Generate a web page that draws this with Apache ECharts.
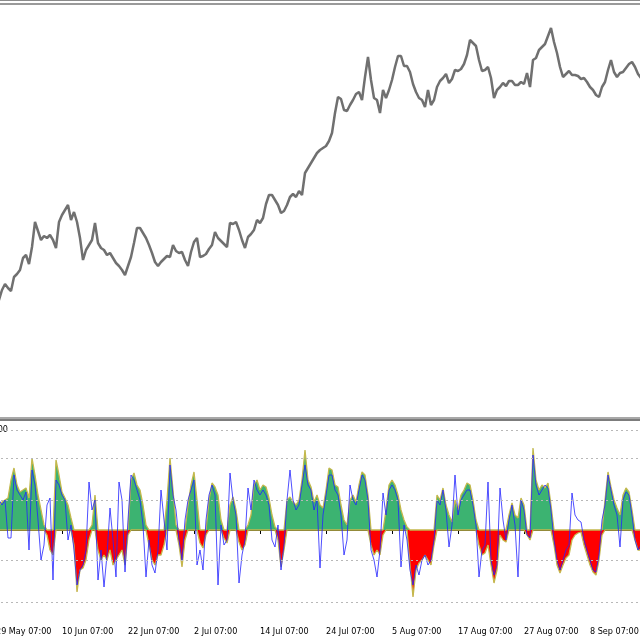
<!DOCTYPE html>
<html><head><meta charset="utf-8">
<script src="https://cdn.jsdelivr.net/npm/echarts@6/dist/echarts.min.js"></script>
<style>html,body{margin:0;padding:0;background:#fff}#c{width:640px;height:640px}</style>
</head><body><div id="c"></div>
<script>
// Time-axis tick labels (one every 22 bars)
const tickLabels = ['29 May 07:00', '10 Jun 07:00', '22 Jun 07:00', '2 Jul 07:00', '14 Jul 07:00',
  '24 Jul 07:00', '5 Aug 07:00', '17 Aug 07:00', '27 Aug 07:00', '8 Sep 07:00'];
const barsPerLabel = 22;

// Price (close), arbitrary units
const price = [
  115,120,130,136,132,129,143,146,150,162,
  165,156,173,198,189,180,184,182,185,180,
  172,198,205,210,215,200,208,198,182,160,
  170,175,180,197,177,172,170,165,167,162,
  157,154,150,145,154,163,177,192,192,187,
  182,175,167,158,154,158,161,164,163,175,
  169,167,168,160,154,168,178,182,163,164,
  166,171,175,188,182,179,176,173,197,196,
  198,190,180,172,183,186,190,200,197,202,
  216,225,225,220,215,207,209,215,223,226,
  223,229,225,247,252,257,262,267,270,272,
  274,279,287,307,323,321,310,309,315,320,
  326,328,320,343,363,340,322,320,307,330,
  322,330,340,353,364,364,354,354,348,336,
  328,322,320,313,330,315,320,333,339,342,
  346,337,341,350,349,351,356,365,380,377,
  374,360,349,350,353,342,322,330,333,337,
  334,339,339,335,335,338,336,347,333,360,
  362,370,373,376,384,392,378,367,353,343,
  346,349,345,345,344,341,342,338,333,330,
  325,323,333,338,350,360,348,343,347,348,
  352,356,358,353,346,342
];

// Oscillator histogram (signed)
const hist = [
  25,25,28,30,32,50,62,45,38,40,
  42,32,72,55,35,20,5,-5,-20,-25,
  70,55,38,32,25,12,-15,-62,-40,-38,
  -30,-10,5,35,-20,-30,-25,-30,-20,-35,
  -30,-25,-20,-35,-5,50,57,45,40,25,
  5,-15,-30,-35,-25,-25,-15,30,72,40,
  5,-15,-37,-10,25,45,58,30,-13,-18,
  -5,30,47,43,35,10,-8,-13,25,33,
  20,-12,-20,-15,5,15,45,50,40,45,
  43,32,15,3,-10,-37,-20,30,33,28,
  25,30,50,80,50,43,28,35,25,22,
  40,62,60,45,43,25,10,5,30,35,
  28,45,58,55,35,-15,-25,-20,-25,-5,
  20,45,50,45,35,20,10,3,-35,-67,
  -40,-33,-30,-25,-30,-35,-15,35,30,42,
  25,15,8,30,20,35,40,47,45,30,
  10,-15,-25,-23,-15,-35,-53,-40,-5,-10,
  -12,15,27,15,12,32,25,-5,-10,82,
  50,40,45,42,47,25,-15,-35,-43,-35,
  -28,-25,-10,-5,-3,-2,-15,-25,-35,-42,
  -45,-30,-5,30,58,43,30,22,15,35,
  42,38,20,-10,-20,-20
];

// Fast signal line
const signal = [
  20,30,25,30,-8,-8,55,40,35,30,
  38,-20,60,45,10,-30,-15,25,32,-50,
  50,45,35,30,-10,5,-20,-55,-40,-35,
  -20,48,20,30,-50,-20,-57,-25,22,-10,
  -47,48,30,-42,10,55,50,40,30,5,
  -47,-10,-35,-43,-20,40,10,-20,65,35,
  20,-10,-30,10,30,40,50,-35,-20,-40,
  10,35,45,35,-55,5,-15,-10,57,30,
  15,-53,-25,-10,42,20,50,40,35,40,
  35,25,-10,-17,5,-40,-15,30,60,30,
  20,25,45,65,45,40,20,30,-38,15,
  35,55,55,40,35,15,-25,-10,45,30,
  25,40,55,50,30,-20,-30,-47,-20,37,
  15,40,45,40,30,-37,5,-10,-40,-55,
  -35,-45,-30,-25,-35,-30,-10,30,25,40,
  20,-17,5,55,15,30,35,40,40,25,
  5,-47,-20,-15,48,-30,-45,-35,42,10,
  -10,10,25,5,-47,30,20,-5,-8,75,
  45,35,40,45,42,20,-10,-30,-40,-30,
  -20,-15,37,15,10,8,-10,-20,-30,-40,
  -42,-25,10,25,55,40,25,15,-17,30,
  38,35,15,-10,-20,-15
];

// Indicator levels (dotted)
const levels = [100, 72, 30, -30, -72];

const cats = price.map((_, i) => 'b' + i);
const pos = hist.map(v => (v > 0 ? v : 0));
const neg = hist.map(v => (v < 0 ? v : 0));
const isTick = (idx) => idx % barsPerLabel === 0;
const fontNarrow = "'Liberation Sans Narrow', 'DejaVu Sans Condensed', 'Liberation Sans', sans-serif";

const chart = echarts.init(document.getElementById('c'), null, { renderer: 'canvas' });
chart.setOption({
  animation: false,
  backgroundColor: '#ffffff',
  grid: [
    { left: -4, right: -1, top: 5, height: 412, containLabel: false, outerBoundsMode: 'none' },
    { left: -4, right: -1, top: 421, height: 202, containLabel: false, outerBoundsMode: 'none' }
  ],
  xAxis: [
    { type: 'category', gridIndex: 0, data: cats, boundaryGap: false, show: false },
    {
      type: 'category', gridIndex: 1, data: cats, boundaryGap: false,
      axisLine: { show: true, lineStyle: { color: '#000', width: 1 } },
      axisTick: { show: true, interval: isTick, length: 4, lineStyle: { color: '#000' } },
      axisLabel: {
        interval: isTick, align: 'left', margin: 4, color: '#000',
        fontSize: 9, fontFamily: fontNarrow, hideOverlap: false,
        formatter: (v, idx) => tickLabels[idx / barsPerLabel] || ''
      },
      splitLine: { show: false }
    }
  ],
  yAxis: [
    { type: 'value', gridIndex: 0, min: 3, max: 415, show: false, splitLine: { show: false } },
    { type: 'value', gridIndex: 1, min: -93, max: 109, show: false, splitLine: { show: false } }
  ],
  series: [
    {
      type: 'line', xAxisIndex: 0, yAxisIndex: 0, data: price, symbol: 'none',
      lineStyle: { color: '#707070', width: 2.5 }
    },
    {
      type: 'line', xAxisIndex: 1, yAxisIndex: 1, data: pos, symbol: 'none',
      lineStyle: { color: '#c4b84c', width: 1.3 },
      areaStyle: { color: '#3cb371', opacity: 1, origin: 0 },
      markLine: {
        silent: true, symbol: 'none', label: { show: false },
        lineStyle: { color: '#b8b8b8', type: [2, 3], width: 1 },
        data: levels.map(v => ({ yAxis: v }))
      }
    },
    {
      type: 'line', xAxisIndex: 1, yAxisIndex: 1, data: neg, symbol: 'none',
      lineStyle: { color: '#c4b84c', width: 1.3 },
      areaStyle: { color: '#ff0000', opacity: 1, origin: 0 }
    },
    {
      type: 'line', xAxisIndex: 1, yAxisIndex: 1, data: signal, symbol: 'none',
      lineStyle: { color: '#2323ff', width: 1, opacity: 0.8 }
    }
  ],
  graphic: [
    { type: 'rect', shape: { x: 0, y: 0, width: 640, height: 1 }, style: { fill: '#8c8c8c' }, silent: true },
    { type: 'rect', shape: { x: 0, y: 3, width: 640, height: 2 }, style: { fill: '#9a9a9a' }, silent: true },
    { type: 'rect', shape: { x: 0, y: 417, width: 640, height: 2 }, style: { fill: '#a8a8a8' }, silent: true },
    { type: 'rect', shape: { x: 0, y: 419, width: 640, height: 2 }, style: { fill: '#7c7c7c' }, silent: true },
    { type: 'text', x: 8, y: 430, silent: true,
      style: { text: '100.00', fill: '#000', font: '9px ' + fontNarrow, align: 'right', verticalAlign: 'middle' } }
  ]
});
</script>
</body></html>
